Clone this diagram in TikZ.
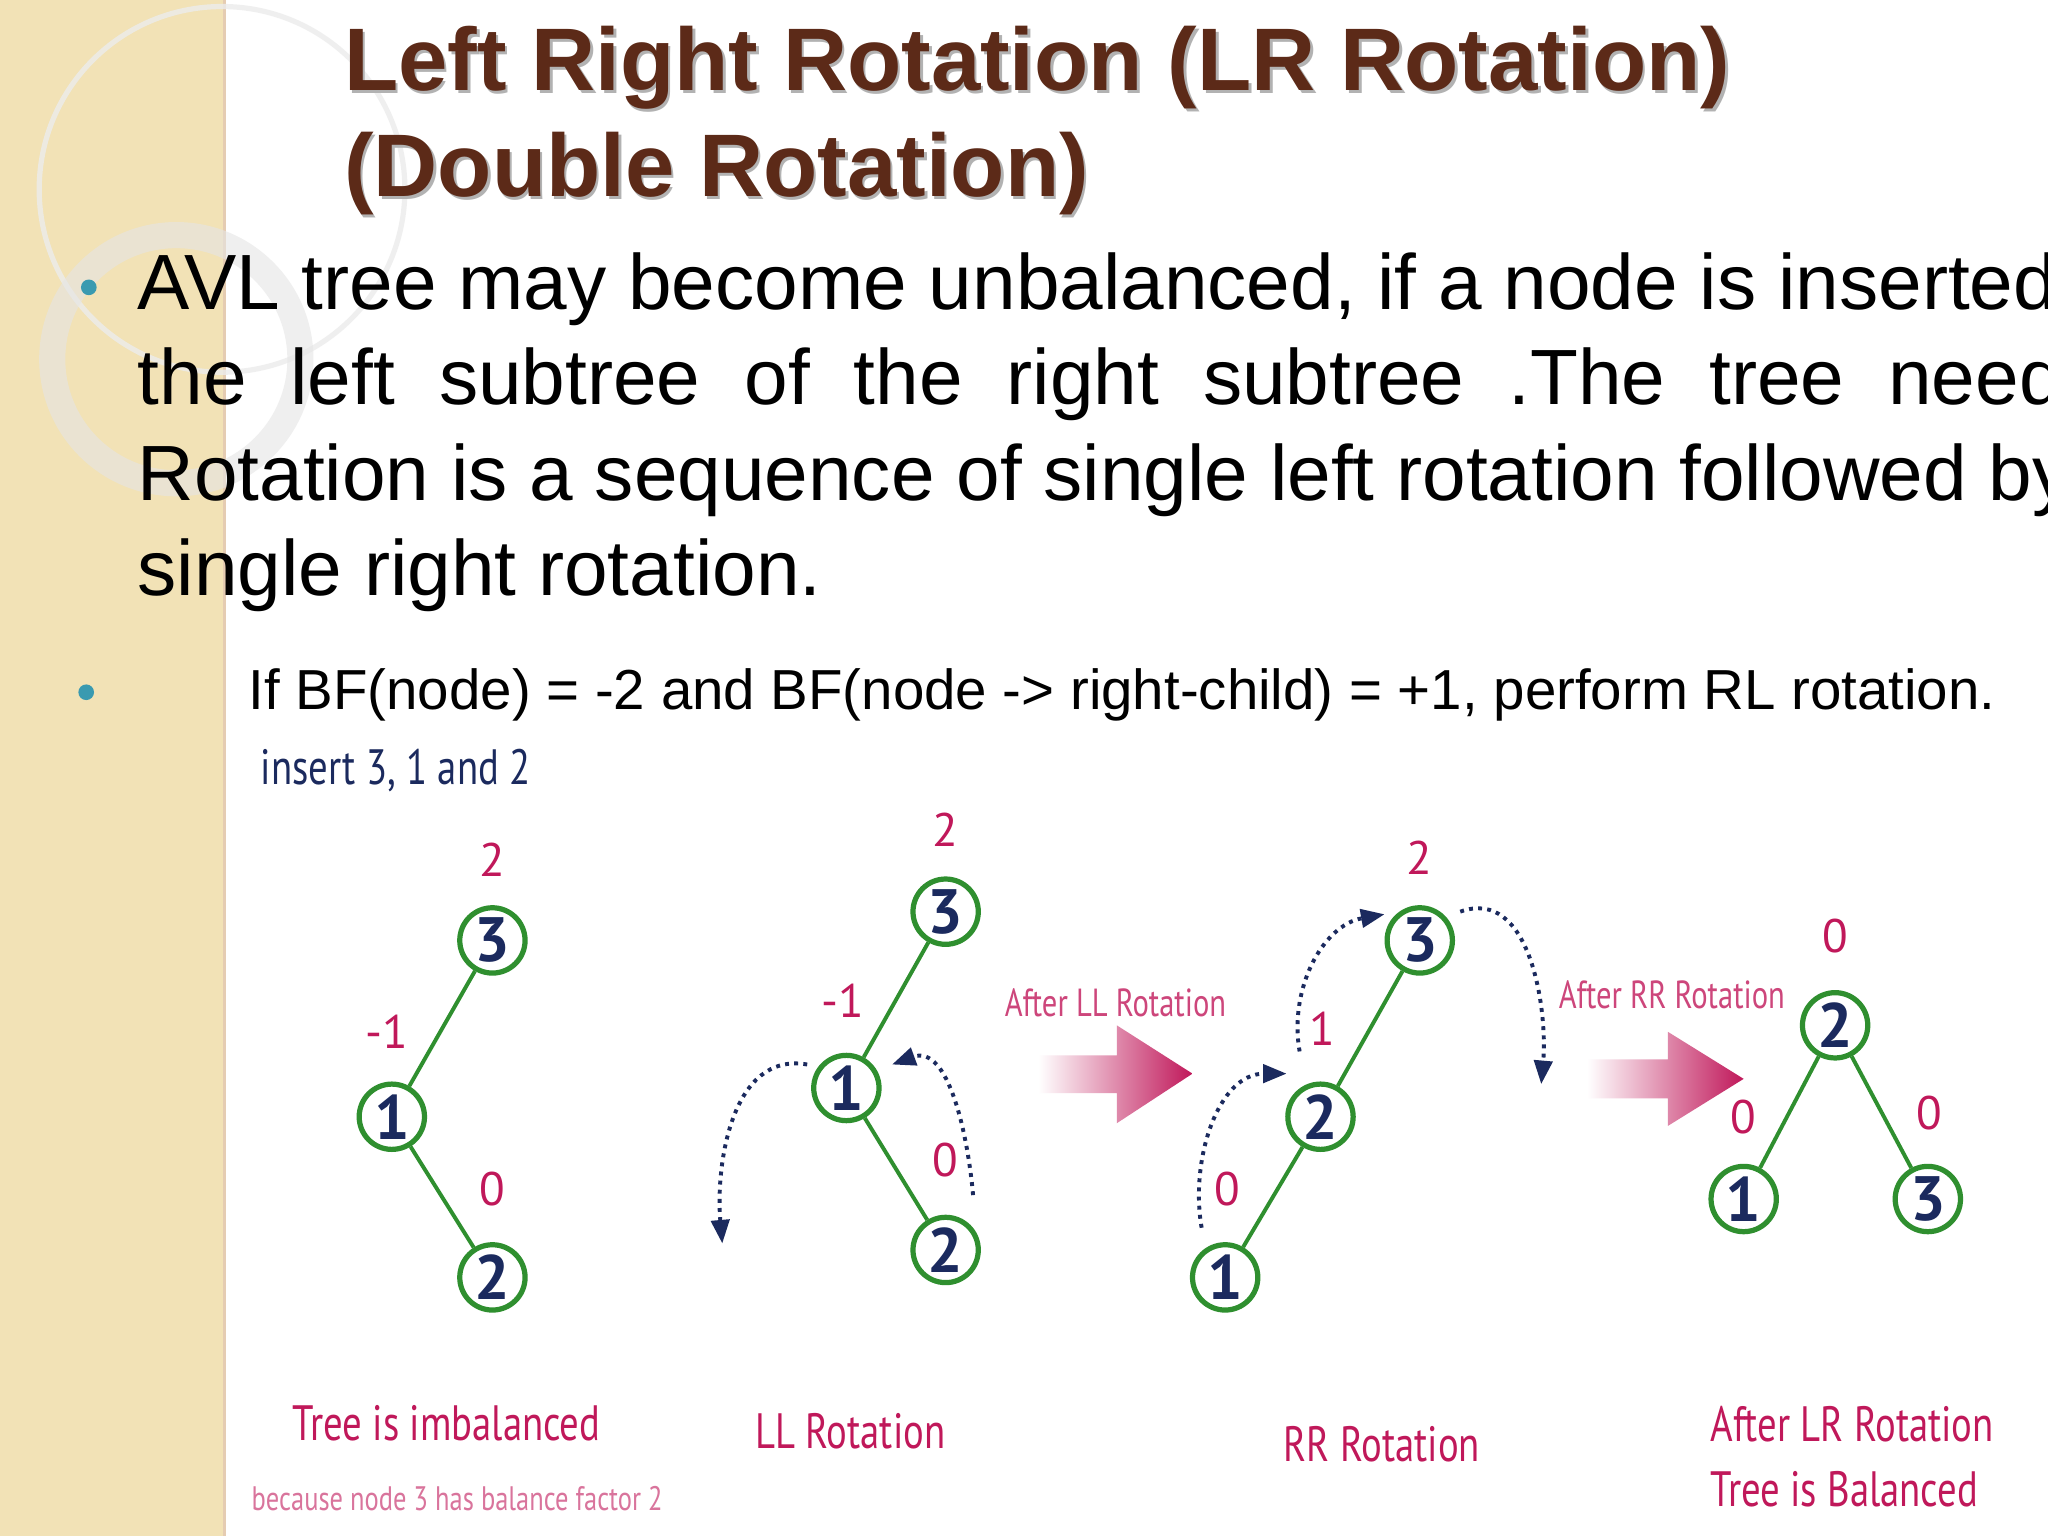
\documentclass[tikz,border=0pt]{standalone}
\usepackage{fontspec}
\usepackage{graphicx}
\setmainfont{Liberation Sans}
\newfontfamily\cond{PT Sans}
\usetikzlibrary{arrows.meta,decorations.pathmorphing}
\definecolor{beige}{HTML}{F2E2B6}
\definecolor{brownt}{HTML}{5C2A18}
\definecolor{treeg}{HTML}{2F8F2F}
\definecolor{navy}{HTML}{1B2A5E}
\definecolor{mag}{HTML}{C0185A}
\definecolor{teal}{HTML}{3A9AB0}
\newcommand{\cz}[1]{\scalebox{0.78}[1]{\cond #1}}
\tikzset{
 tn/.style={circle,draw=treeg,line width=2pt,fill=white,minimum size=25pt,inner sep=0pt,text=navy,font=\fontsize{24}{24}\cond\bfseries},
 bf/.style={text=mag,font=\fontsize{18}{18}\cond},
 edge/.style={treeg,line width=1.5pt},
 dots/.style={navy,line width=1.5pt,dotted,-{Triangle[length=9pt,width=7pt]}},
 captext/.style={text=mag,font=\fontsize{19}{19}\selectfont,anchor=center},
}
\begin{document}
\begin{tikzpicture}[x=0.5pt,y=-0.5pt]
\useasboundingbox (0,0) rectangle (1568,1176);
\clip (0,0) rectangle (1568,1176);
\fill[white] (0,0) rectangle (1568,1176);
\fill[beige] (0,0) rectangle (172,1176);
\draw[brown!40,line width=1pt] (172,0) -- (172,1176);
\draw[white!85!gray,line width=2pt,opacity=0.8] (170,145) circle (140);
\draw[white!80!gray,line width=10pt,opacity=0.6] (135,275) circle (95);
% title
\foreach \dx/\col in {2/gray!60,0/brownt}{
\node[anchor=west,text=\col,font=\fontsize{34}{34}\selectfont\bfseries,inner sep=0pt] (t1\dx) at (263+\dx,52+\dx) {Left Right Rotation (LR Rotation)};
\node[anchor=west,text=\col,font=\fontsize{34}{34}\selectfont\bfseries,inner sep=0pt] (t2\dx) at (263+\dx,133+\dx) {(Double Rotation)};}
% bullets
\fill[teal] (68,220) circle (6);
\fill[teal] (66,530) circle (6);
\tikzset{bt/.style={anchor=base west,font=\fontsize{30}{30}\selectfont,inner sep=0pt}}
\node[bt] (l1) at (105,237) {AVL tree may become unbalanced, if a node is inserted};
\node[bt] (l2) at (105,310) {\makebox[752pt][s]{the left subtree of the right subtree .The tree needs}};
\node[bt] (l3) at (105,383) {Rotation is a sequence of single left rotation followed by};
\node[bt] (l4) at (105,456) {single right rotation.};
\node[anchor=base west,font=\fontsize{21.6}{21.6}\selectfont,inner sep=0pt] (b2) at (190,543) {If BF(node) = -2 and BF(node -> right-child) = +1, perform RL rotation.};
\node[text=navy,font=\fontsize{19}{19}\selectfont] (ins) at (303,590) {\cz{insert 3, 1 and 2}};
% tree 1
\node[tn] (a3) at (377,720) {3};
\node[tn] (a1) at (300,855) {1};
\node[tn] (a2) at (377,978) {2};
\draw[edge] (a3) -- (a1); \draw[edge] (a1) -- (a2);
\node[bf] (ab3) at (377,658) {2};
\node[bf] (ab1) at (296,790) {-1};
\node[bf] (ab2) at (377,910) {0};
% tree 2
\node[tn] (b3) at (724,698) {3};
\node[tn] (b1) at (648,833) {1};
\node[tn] (b2n) at (724,957) {2};
\draw[edge] (b3) -- (b1); \draw[edge] (b1) -- (b2n);
\node[bf] (bb3) at (724,635) {2};
\node[bf] (bb1) at (645,766) {-1};
\node[bf] (bb2) at (724,888) {0};
\coordinate (c1) at (745,915); \coordinate (c2) at (683,815);
\draw[dots] (c1) to[out=95,in=20] (c2);
\coordinate (c3) at (618,815); \coordinate (c4) at (553,952);
\draw[dots] (c3) to[out=170,in=95] (c4);
% arrow 1
\shade[left color=white,right color=mag] (795,808) -- (855,808) -- (855,785) -- (913,822) -- (855,860) -- (855,837) -- (795,837) -- cycle;
\node[text=mag!80,font=\fontsize{15}{15}\selectfont] (lab1) at (854,768) {\cz{After LL Rotation}};
% tree 3
\node[tn] (c3n) at (1087,720) {3};
\node[tn] (c2n) at (1011,855) {2};
\node[tn] (c1n) at (938,978) {1};
\draw[edge] (c3n) -- (c2n); \draw[edge] (c2n) -- (c1n);
\node[bf] (cb3) at (1087,657) {2};
\node[bf] (cb2) at (1012,788) {1};
\node[bf] (cb1) at (940,910) {0};
\coordinate (d1) at (920,940); \coordinate (d2) at (985,822);
\draw[dots] (d1) to[out=100,in=180] (d2);
\coordinate (d3) at (995,805); \coordinate (d4) at (1060,700);
\draw[dots] (d3) to[out=100,in=190] (d4);
\coordinate (d5) at (1118,698); \coordinate (d6) at (1180,830);
\draw[dots] (d5) to[out=20,in=85] (d6);
% arrow 2
\shade[left color=white,right color=mag] (1215,811) -- (1277,811) -- (1277,790) -- (1335,826) -- (1277,862) -- (1277,841) -- (1215,841) -- cycle;
\node[text=mag!80,font=\fontsize{15}{15}\selectfont] (lab2) at (1280,762) {\cz{After RR Rotation}};
% tree 4
\node[tn] (e2) at (1405,785) {2};
\node[tn] (e1) at (1335,918) {1};
\node[tn] (e3) at (1476,918) {3};
\draw[edge] (e2) -- (e1); \draw[edge] (e2) -- (e3);
\node[bf] (eb2) at (1405,717) {0};
\node[bf] (eb1) at (1335,855) {0};
\node[bf] (eb3) at (1477,852) {0};
% captions
\node[captext] (k1) at (342,1090) {\cz{Tree is imbalanced}};
\node[text=mag!60,font=\fontsize{13}{13}\selectfont] (k1b) at (350,1147) {\cz{because node 3 has balance factor 2}};
\node[captext] (k2) at (651,1096) {\cz{LL Rotation}};
\node[captext] (k3) at (1058,1106) {\cz{RR Rotation}};
\node[captext] (k4) at (1418,1090) {\cz{After LR Rotation}};
\node[captext] (k5) at (1412,1140) {\cz{Tree is Balanced}};
\end{tikzpicture}
\end{document}
